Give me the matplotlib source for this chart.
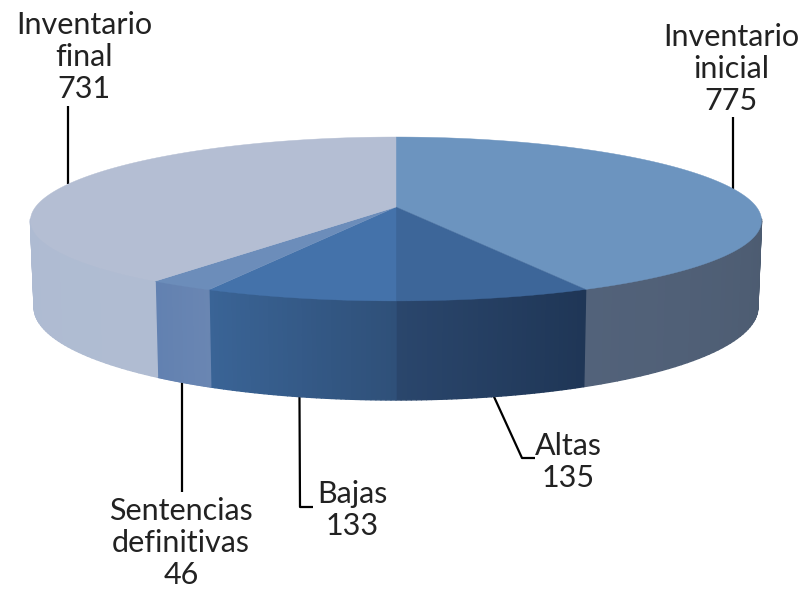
import numpy as np
import matplotlib
matplotlib.use('Agg')
import matplotlib.pyplot as plt
from matplotlib.collections import PolyCollection
from matplotlib.colors import to_rgb

# data
categories = ['Inventario inicial', 'Altas', 'Bajas', 'Sentencias definitivas', 'Inventario final']
values = [775, 135, 133, 46, 731]
label_text = ['Inventario\ninicial\n775', 'Altas\n135', 'Bajas\n133',
              'Sentencias\ndefinitivas\n46', 'Inventario\nfinal\n731']

# colours per slice
top_colors = ['#6C94BF', '#3D6699', '#4472AA', '#6C8DBA', '#B4BED3']
wall_right = ['#4C5B70', '#1F3656', '#2F5079', '#6A86B2', '#B0BCD2']
wall_left = ['#52627A', '#2A466C', '#3A6496', '#6281B1', '#AEBBD2']

# label centers (pixels) and leader elbows
label_xy = [(731, 69), (568, 462), (352, 510), (181, 543), (84, 57)]
leader_mid = [None, (522, 458), (300, 507), None, None]
leader_end = [(733, 117), (535, 458), (313, 507), (182, 492), (68, 106)]

# projection of the disc, pixels
cx, cy = 396, 207
rx, ry, depth, k = 360.5, 80.2, 84.6, 0.146


def project(t, z=0.0, r=1.0):
    u = r * np.sin(t)
    v = r * np.cos(t)
    s = 1 + k * v
    x = cx + rx * u * (1 - 0.01 * z) * (1 - 0.02 * v) / s
    y = cy + (-ry * v + depth * z) / s
    return x, y


fig = plt.figure(figsize=(8.05, 5.9), dpi=100, facecolor='white')
ax = fig.add_axes([0, 0, 1, 1])
ax.set_xlim(0, 805)
ax.set_ylim(590, 0)
ax.axis('off')

edges = np.concatenate([[0], np.cumsum(values)]) / sum(values) * 2 * np.pi
vis_a = np.pi - np.arccos(k)   # right silhouette
vis_b = np.pi + np.arccos(k)   # left silhouette

# side walls
for i in range(len(values)):
    a = max(edges[i], vis_a)
    b = min(edges[i + 1], vis_b)
    if b <= a:
        continue
    ts = np.linspace(a, b, 40)
    c0 = np.array(to_rgb(wall_right[i]))
    c1 = np.array(to_rgb(wall_left[i]))
    quads, cols = [], []
    for j in range(len(ts) - 1):
        x0, y0 = project(ts[j])
        x1, y1 = project(ts[j + 1])
        x2, y2 = project(ts[j + 1], 1)
        x3, y3 = project(ts[j], 1)
        quads.append([(x0, y0), (x1, y1), (x2, y2), (x3, y3)])
        cols.append(c0 + (c1 - c0) * j / (len(ts) - 2))
    ax.add_collection(PolyCollection(quads, facecolors=cols, edgecolors=cols, linewidths=1.0, zorder=2 + i * 0.01))

# top faces
for i in range(len(values)):
    ts = np.linspace(edges[i], edges[i + 1], 200)
    x, y = project(ts)
    ax.fill(np.r_[cx, x], np.r_[cy, y], color=top_colors[i], lw=0.3, zorder=3)

# leaders
for i in range(len(values)):
    mid = (edges[i] + edges[i + 1]) / 2
    front = vis_a < mid < vis_b
    sx, sy = project(mid, 1 if front else 0)
    px = [sx]
    py = [sy]
    if leader_mid[i] is not None:
        px.append(leader_mid[i][0])
        py.append(leader_mid[i][1])
    px.append(leader_end[i][0])
    py.append(leader_end[i][1])
    if leader_mid[i] is None:
        px[0] = px[-1]
    ax.plot(px, py, color='black', lw=1.6, solid_capstyle='butt', zorder=1)

# labels
for i in range(len(values)):
    ax.text(label_xy[i][0], label_xy[i][1], label_text[i], ha='center', va='center',
            fontsize=22, family='Lato', linespacing=1.18, color='#222222', zorder=5)

plt.savefig('out.png', dpi=100, facecolor='white')
